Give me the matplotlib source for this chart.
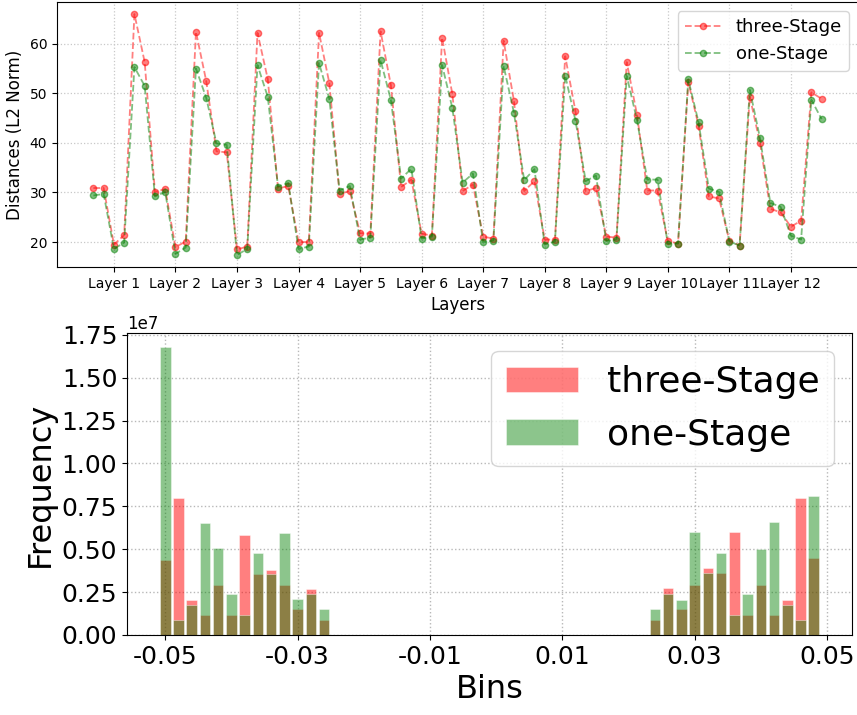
import matplotlib
matplotlib.use('Agg')
import matplotlib.pyplot as plt
import numpy as np

plt.rcParams['axes.unicode_minus'] = False

# per-layer L2 distances, 6 points per layer
layer_names = ['Layer 1', 'Layer 2', 'Layer 3', 'Layer 4', 'Layer 5', 'Layer 6',
               'Layer 7', 'Layer 8', 'Layer 9', 'Layer 10', 'Layer 11', 'Layer 12']
three_stage = [30.9, 30.9, 19.5, 21.4, 66.0, 56.3,
               30.1, 30.7, 19.0, 20.1, 62.4, 52.5,
               38.3, 38.1, 18.5, 19.1, 62.2, 52.9,
               30.8, 31.3, 20.0, 20.0, 62.2, 52.1,
               29.7, 30.3, 21.8, 21.7, 62.5, 51.7,
               31.1, 32.6, 21.7, 21.3, 61.2, 49.8,
               30.3, 31.6, 21.1, 20.7, 60.6, 48.5,
               30.3, 32.3, 20.5, 20.5, 57.5, 46.4,
               30.3, 30.9, 21.1, 20.9, 56.3, 45.7,
               30.4, 30.4, 20.2, 19.7, 52.3, 43.5,
               29.2, 28.8, 20.3, 19.3, 49.3, 39.9,
               26.7, 26.0, 23.1, 24.3, 50.2, 48.9]
one_stage = [29.4, 29.7, 18.6, 19.9, 55.3, 51.5,
             29.2, 30.1, 17.6, 18.9, 55.0, 49.1,
             39.9, 39.6, 17.4, 18.6, 55.7, 49.3,
             31.2, 31.9, 18.6, 19.1, 56.1, 48.9,
             30.4, 31.3, 20.5, 20.9, 56.7, 48.7,
             32.8, 34.8, 20.7, 21.1, 55.7, 47.0,
             32.0, 33.8, 20.0, 20.3, 55.5, 46.1,
             32.5, 34.7, 19.5, 20.1, 53.6, 44.5,
             32.3, 33.4, 20.2, 20.5, 53.5, 44.6,
             32.6, 32.6, 19.7, 19.7, 52.8, 44.2,
             30.8, 30.1, 20.1, 19.3, 50.7, 40.9,
             27.9, 27.1, 21.3, 20.5, 48.7, 44.8]

# weight histogram (counts in units of 1e7)
bin_left = [-0.050, -0.048, -0.046, -0.044, -0.042, -0.040, -0.038,
            -0.036, -0.034, -0.032, -0.030, -0.028, -0.026]
bin_right = [0.024, 0.026, 0.028, 0.030, 0.032, 0.034, 0.036,
             0.038, 0.040, 0.042, 0.044, 0.046, 0.048]
three_left = [0.44, 0.80, 0.205, 0.119, 0.292, 0.119, 0.584, 0.357, 0.380, 0.292, 0.152, 0.271, 0.086]
one_left = [1.677, 0.086, 0.175, 0.651, 0.508, 0.240, 0.119, 0.477, 0.357, 0.596, 0.207, 0.240, 0.152]
three_right = [0.085, 0.274, 0.150, 0.294, 0.393, 0.359, 0.600, 0.118, 0.294, 0.118, 0.205, 0.797, 0.448]
one_right = [0.150, 0.241, 0.205, 0.602, 0.359, 0.480, 0.118, 0.241, 0.501, 0.657, 0.176, 0.085, 0.809]
bin_ticks = [-0.05, -0.03, -0.01, 0.01, 0.03, 0.05]
freq_ticks = [0.0, 0.25, 0.5, 0.75, 1.0, 1.25, 1.5, 1.75]

fig = plt.figure(figsize=(8.57, 7.15), dpi=100)

# top: distances per layer
ax1 = fig.add_axes([0.0665, 0.6266, 0.9347, 0.3706])
x = np.arange(len(three_stage))
ax1.plot(x, three_stage, 'r--o', alpha=0.5, markersize=4.5, linewidth=1.3, label='three-Stage')
ax1.plot(x, one_stage, 'g--o', alpha=0.5, markersize=4.5, linewidth=1.3, label='one-Stage')
ax1.set_xticks(np.arange(2, len(three_stage), 6))
ax1.set_xticklabels(layer_names, fontsize=10)
ax1.set_yticks([20, 30, 40, 50, 60])
ax1.tick_params(axis='y', labelsize=10)
ax1.set_xlabel('Layers', fontsize=12)
ax1.set_ylabel('Distances (L2 Norm)', fontsize=12)
ax1.grid(True, linestyle=':', color='#c8c8c8', linewidth=0.9)
ax1.legend(loc='upper right', fontsize=13)

# bottom: histogram of bins
ax2 = fig.add_axes([0.1482, 0.1119, 0.846, 0.4224])
bins = np.array(bin_left + bin_right)
three_counts = np.array(three_left + three_right) * 1e7
one_counts = np.array(one_left + one_right) * 1e7
ax2.bar(bins, three_counts, width=0.0016, color='red', alpha=0.5,
        edgecolor='white', linewidth=0.6, label='three-Stage')
ax2.bar(bins, one_counts, width=0.0016, color='green', alpha=0.45,
        edgecolor='white', linewidth=0.6, label='one-Stage')
ax2.set_xticks(bin_ticks)
ax2.set_xticklabels(['%.2f' % b for b in bin_ticks])
ax2.set_yticks(np.array(freq_ticks) * 1e7)
ax2.tick_params(labelsize=18)
ax2.yaxis.get_offset_text().set_fontsize(12)
ax2.set_xlabel('Bins', fontsize=23)
ax2.set_ylabel('Frequency', fontsize=23)
ax2.grid(True, linestyle=':', color='#b8b8b8', linewidth=1.0)
ax2.set_axisbelow(True)
ax2.legend(loc='upper right', fontsize=26)

plt.savefig('out.png', dpi=100)
